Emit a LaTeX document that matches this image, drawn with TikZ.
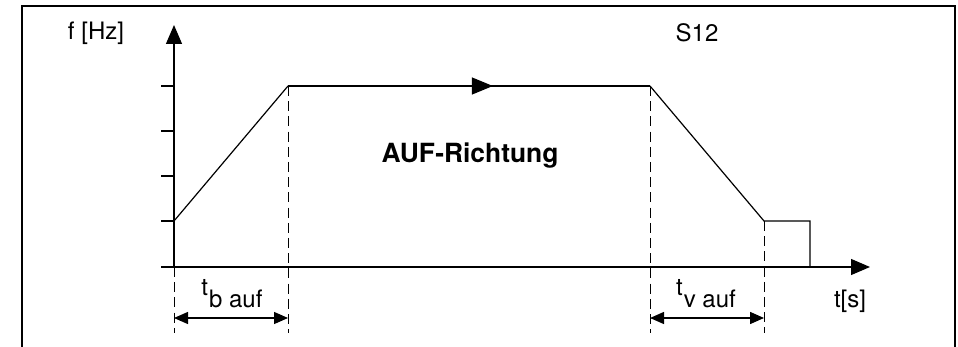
\documentclass[tikz,border=0pt]{standalone}
\usepackage{fontspec}
\setmainfont{TeX Gyre Heros}
\usetikzlibrary{arrows.meta,decorations.markings}

\tikzset{
  curve/.style={line width=0.6pt, line join=miter},
  axisline/.style={line width=0.6pt, -{Triangle[length=9.5pt,width=8pt]}},
  guide/.style={line width=0.5pt, dash pattern=on 5pt off 2.6pt},
  dimline/.style={line width=0.7pt, {Triangle[length=7pt,width=6pt]}-{Triangle[length=7pt,width=6pt]}},
  flowmark/.style={postaction={decorate}, decoration={markings,
      mark=at position #1 with {\arrow{Triangle[length=10.5pt,width=8.5pt]}}}},
  lbl/.style={inner sep=0pt, font=\fontsize{12}{14}\selectfont},
}
\newcommand{\lowsub}[2]{#1\kern0.5pt\raisebox{-6pt}{#2}}

\begin{document}
\begin{tikzpicture}[x=0.5pt, y=-0.5pt]
    \useasboundingbox (0,0) rectangle (958,347);

    % Frame (open at the bottom)
    \draw[line width=1pt] (22,347) -- (22,6) -- (955,6) -- (955,347);

    % Corner points of the frequency profile
    \coordinate (o) at (174,267);
    \coordinate (p0) at (174,221);
    \coordinate (p1) at (288,86);
    \coordinate (p2) at (650,86);
    \coordinate (p3) at (764,221);
    \coordinate (p4) at (810,221);
    \coordinate (p5) at (810,267);

    % Axes
    \coordinate (ytop) at (174,25);
    \coordinate (xl) at (161,267);
    \coordinate (xr) at (870,267);
    \draw[axisline] (o) -- (ytop);
    \draw[axisline] (xl) -- (xr);
    \foreach \y in {86,131,176,221}
        \draw[line width=0.6pt] (161,\y) -- (174,\y);

    % Profile
    \draw[curve] (p0) -- (p1);
    \draw[curve, flowmark=0.566] (p1) -- (p2);
    \draw[curve] (p2) -- (p3) -- (p4) -- (p5);

    % Dashed guides
    \coordinate (d0) at (174,333);
    \coordinate (d1) at (288,333);
    \coordinate (d2) at (650,333);
    \coordinate (d3) at (764,333);
    \draw[guide] (o) -- (d0);
    \draw[guide] (p1) -- (d1);
    \draw[guide] (p2) -- (d2);
    \draw[guide] (p3) -- (d3);

    % Time spans
    \coordinate (a0) at (174,318);
    \coordinate (a1) at (288,318);
    \coordinate (a2) at (650,318);
    \coordinate (a3) at (764,318);
    \draw[dimline] (a0) -- (a1);
    \draw[dimline] (a2) -- (a3);

    % Labels
    \node[lbl] (fhz) at (96,33) {f [Hz]};
    \node[lbl] (s12) at (697,33) {S12};
    \node[lbl] (ts) at (850,301) {t[s]};
    \node[lbl, anchor=base] (tb) at (232,295) {\lowsub{t}{b auf}};
    \node[lbl, anchor=base] (tv) at (706,295) {\lowsub{t}{v auf}};
    \node[inner sep=0pt, font=\fontsize{13.2}{16}\selectfont\bfseries, anchor=base] (dir) at (470,163) {AUF-Richtung};
\end{tikzpicture}
\end{document}
